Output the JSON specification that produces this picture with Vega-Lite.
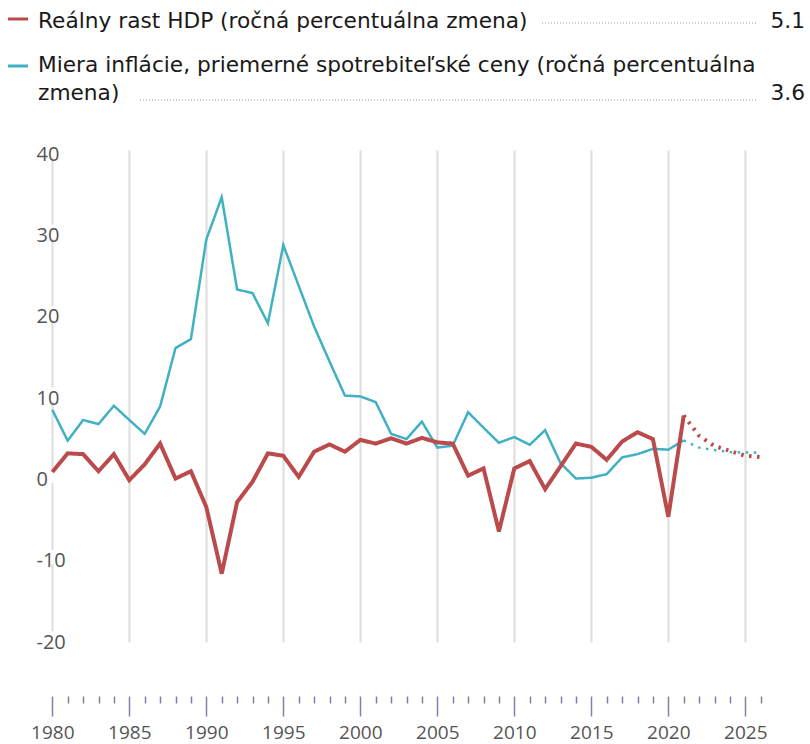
{
  "$schema": "https://vega.github.io/schema/vega-lite/v6.json",
  "padding": 0,
  "spacing": 30,
  "bounds": "flush",
  "config": {"font": "Open Sans", "view": {"stroke": null}},
  "vconcat": [
    {
      "width": 810,
      "height": 120,
      "data": {"values": [
        {"series": "gdp", "label": "Reálny rast HDP (ročná percentuálna zmena)", "latest": "5.1"},
        {"series": "inf", "label": "Miera inflácie, priemerné spotrebiteľské ceny (ročná percentuálna\nzmena)", "latest": "3.6"}
      ]},
      "resolve": {"scale": {"y": "independent", "x": "independent"}},
      "layer": [
        {
          "mark": {"type": "rule", "strokeWidth": 3},
          "encoding": {
            "x": {"value": 8},
            "x2": {"value": 28},
            "y": {"field": "series", "type": "nominal", "scale": {"type": "point", "padding": 0, "domain": ["gdp", "inf"], "range": [19, 66]}, "axis": null},
            "color": {"field": "series", "type": "nominal", "scale": {"domain": ["gdp", "inf"], "range": ["#bb4a4c", "#41b0c3"]}, "legend": null}
          }
        },
        {
          "mark": {"type": "text", "align": "left", "baseline": "alphabetic", "font": "DejaVu Sans", "fontSize": 21.7, "lineBreak": "\n", "lineHeight": 28, "color": "#1a1a1a"},
          "encoding": {
            "x": {"value": 38},
            "y": {"field": "series", "type": "nominal", "scale": {"type": "point", "padding": 0, "domain": ["gdp", "inf"], "range": [28, 72]}, "axis": null},
            "text": {"field": "label"}
          }
        },
        {
          "mark": {"type": "rule", "strokeWidth": 1, "strokeDash": [1, 2], "color": "#999999"},
          "encoding": {
            "x": {"field": "series", "type": "nominal", "scale": {"type": "point", "padding": 0, "domain": ["gdp", "inf"], "range": [542, 140]}, "axis": null},
            "x2": {"value": 757},
            "y": {"field": "series", "type": "nominal", "scale": {"type": "point", "padding": 0, "domain": ["gdp", "inf"], "range": [23, 100]}, "axis": null}
          }
        },
        {
          "mark": {"type": "text", "align": "right", "baseline": "alphabetic", "font": "DejaVu Sans", "fontSize": 21.7, "color": "#1a1a1a"},
          "encoding": {
            "x": {"value": 805},
            "y": {"field": "series", "type": "nominal", "scale": {"type": "point", "padding": 0, "domain": ["gdp", "inf"], "range": [28, 100]}, "axis": null},
            "text": {"field": "latest"}
          }
        }
      ]
    },
    {
      "width": 810,
      "height": 492,
      "data": {"values": [
        {"year": 1980, "series": "gdp", "kind": "actual", "value": 0.9},
        {"year": 1981, "series": "gdp", "kind": "actual", "value": 3.2},
        {"year": 1982, "series": "gdp", "kind": "actual", "value": 3.1},
        {"year": 1983, "series": "gdp", "kind": "actual", "value": 1.0},
        {"year": 1984, "series": "gdp", "kind": "actual", "value": 3.1},
        {"year": 1985, "series": "gdp", "kind": "actual", "value": -0.1},
        {"year": 1986, "series": "gdp", "kind": "actual", "value": 1.85},
        {"year": 1987, "series": "gdp", "kind": "actual", "value": 4.4},
        {"year": 1988, "series": "gdp", "kind": "actual", "value": 0.1},
        {"year": 1989, "series": "gdp", "kind": "actual", "value": 1.0},
        {"year": 1990, "series": "gdp", "kind": "actual", "value": -3.4},
        {"year": 1991, "series": "gdp", "kind": "actual", "value": -11.6},
        {"year": 1992, "series": "gdp", "kind": "actual", "value": -2.8},
        {"year": 1993, "series": "gdp", "kind": "actual", "value": -0.3},
        {"year": 1994, "series": "gdp", "kind": "actual", "value": 3.2},
        {"year": 1995, "series": "gdp", "kind": "actual", "value": 2.9},
        {"year": 1996, "series": "gdp", "kind": "actual", "value": 0.3},
        {"year": 1997, "series": "gdp", "kind": "actual", "value": 3.4},
        {"year": 1998, "series": "gdp", "kind": "actual", "value": 4.3},
        {"year": 1999, "series": "gdp", "kind": "actual", "value": 3.4},
        {"year": 2000, "series": "gdp", "kind": "actual", "value": 4.85},
        {"year": 2001, "series": "gdp", "kind": "actual", "value": 4.4},
        {"year": 2002, "series": "gdp", "kind": "actual", "value": 5.05},
        {"year": 2003, "series": "gdp", "kind": "actual", "value": 4.4},
        {"year": 2004, "series": "gdp", "kind": "actual", "value": 5.1},
        {"year": 2005, "series": "gdp", "kind": "actual", "value": 4.55},
        {"year": 2006, "series": "gdp", "kind": "actual", "value": 4.4},
        {"year": 2007, "series": "gdp", "kind": "actual", "value": 0.45},
        {"year": 2008, "series": "gdp", "kind": "actual", "value": 1.35},
        {"year": 2009, "series": "gdp", "kind": "actual", "value": -6.4},
        {"year": 2010, "series": "gdp", "kind": "actual", "value": 1.35},
        {"year": 2011, "series": "gdp", "kind": "actual", "value": 2.25},
        {"year": 2012, "series": "gdp", "kind": "actual", "value": -1.2},
        {"year": 2013, "series": "gdp", "kind": "actual", "value": 1.6},
        {"year": 2014, "series": "gdp", "kind": "actual", "value": 4.4},
        {"year": 2015, "series": "gdp", "kind": "actual", "value": 4.0},
        {"year": 2016, "series": "gdp", "kind": "actual", "value": 2.4},
        {"year": 2017, "series": "gdp", "kind": "actual", "value": 4.65},
        {"year": 2018, "series": "gdp", "kind": "actual", "value": 5.8},
        {"year": 2019, "series": "gdp", "kind": "actual", "value": 4.95},
        {"year": 2020, "series": "gdp", "kind": "actual", "value": -4.6},
        {"year": 2021, "series": "gdp", "kind": "actual", "value": 7.85},
        {"year": 2021, "series": "gdp", "kind": "projection", "value": 7.85},
        {"year": 2022, "series": "gdp", "kind": "projection", "value": 5.35},
        {"year": 2023, "series": "gdp", "kind": "projection", "value": 4.1},
        {"year": 2024, "series": "gdp", "kind": "projection", "value": 3.5},
        {"year": 2025, "series": "gdp", "kind": "projection", "value": 2.9},
        {"year": 2026, "series": "gdp", "kind": "projection", "value": 2.75},
        {"year": 1980, "series": "inf", "kind": "actual", "value": 8.55},
        {"year": 1981, "series": "inf", "kind": "actual", "value": 4.75},
        {"year": 1982, "series": "inf", "kind": "actual", "value": 7.3},
        {"year": 1983, "series": "inf", "kind": "actual", "value": 6.8},
        {"year": 1984, "series": "inf", "kind": "actual", "value": 9.05},
        {"year": 1985, "series": "inf", "kind": "actual", "value": 7.3},
        {"year": 1986, "series": "inf", "kind": "actual", "value": 5.6},
        {"year": 1987, "series": "inf", "kind": "actual", "value": 8.95},
        {"year": 1988, "series": "inf", "kind": "actual", "value": 16.15},
        {"year": 1989, "series": "inf", "kind": "actual", "value": 17.25},
        {"year": 1990, "series": "inf", "kind": "actual", "value": 29.5},
        {"year": 1991, "series": "inf", "kind": "actual", "value": 34.7},
        {"year": 1992, "series": "inf", "kind": "actual", "value": 23.35},
        {"year": 1993, "series": "inf", "kind": "actual", "value": 22.9},
        {"year": 1994, "series": "inf", "kind": "actual", "value": 19.2},
        {"year": 1995, "series": "inf", "kind": "actual", "value": 28.8},
        {"year": 1996, "series": "inf", "kind": "actual", "value": 23.8},
        {"year": 1997, "series": "inf", "kind": "actual", "value": 18.8},
        {"year": 1998, "series": "inf", "kind": "actual", "value": 14.5},
        {"year": 1999, "series": "inf", "kind": "actual", "value": 10.3},
        {"year": 2000, "series": "inf", "kind": "actual", "value": 10.2},
        {"year": 2001, "series": "inf", "kind": "actual", "value": 9.5},
        {"year": 2002, "series": "inf", "kind": "actual", "value": 5.6},
        {"year": 2003, "series": "inf", "kind": "actual", "value": 4.95},
        {"year": 2004, "series": "inf", "kind": "actual", "value": 7.1},
        {"year": 2005, "series": "inf", "kind": "actual", "value": 3.9},
        {"year": 2006, "series": "inf", "kind": "actual", "value": 4.15},
        {"year": 2007, "series": "inf", "kind": "actual", "value": 8.25},
        {"year": 2008, "series": "inf", "kind": "actual", "value": 6.35},
        {"year": 2009, "series": "inf", "kind": "actual", "value": 4.5},
        {"year": 2010, "series": "inf", "kind": "actual", "value": 5.2},
        {"year": 2011, "series": "inf", "kind": "actual", "value": 4.25},
        {"year": 2012, "series": "inf", "kind": "actual", "value": 6.05},
        {"year": 2013, "series": "inf", "kind": "actual", "value": 2.0},
        {"year": 2014, "series": "inf", "kind": "actual", "value": 0.1},
        {"year": 2015, "series": "inf", "kind": "actual", "value": 0.2},
        {"year": 2016, "series": "inf", "kind": "actual", "value": 0.65},
        {"year": 2017, "series": "inf", "kind": "actual", "value": 2.7},
        {"year": 2018, "series": "inf", "kind": "actual", "value": 3.1},
        {"year": 2019, "series": "inf", "kind": "actual", "value": 3.75},
        {"year": 2020, "series": "inf", "kind": "actual", "value": 3.65},
        {"year": 2021, "series": "inf", "kind": "actual", "value": 4.8},
        {"year": 2021, "series": "inf", "kind": "projection", "value": 4.8},
        {"year": 2022, "series": "inf", "kind": "projection", "value": 3.9},
        {"year": 2023, "series": "inf", "kind": "projection", "value": 3.6},
        {"year": 2024, "series": "inf", "kind": "projection", "value": 3.35},
        {"year": 2025, "series": "inf", "kind": "projection", "value": 3.3},
        {"year": 2026, "series": "inf", "kind": "projection", "value": 3.3}
      ]},
      "encoding": {
        "x": {
          "field": "year", "type": "quantitative",
          "scale": {"domain": [1976.604, 2029.2], "nice": false, "zero": false},
          "axis": {
            "title": null,
            "values": [1980,1981,1982,1983,1984,1985,1986,1987,1988,1989,1990,1991,1992,1993,1994,1995,1996,1997,1998,1999,2000,2001,2002,2003,2004,2005,2006,2007,2008,2009,2010,2011,2012,2013,2014,2015,2016,2017,2018,2019,2020,2021,2022,2023,2024,2025,2026],
            "domain": false,
            "offset": 54,
            "tickSize": {"condition": {"test": "datum.value % 5 === 0", "value": 20}, "value": 7},
            "tickColor": "#7e82a8",
            "tickWidth": 1.5,
            "grid": true,
            "gridColor": "#dddddd",
            "gridWidth": 2,
            "gridOpacity": {"condition": {"test": "datum.value % 5 === 0", "value": 1}, "value": 0},
            "gridDash": {"condition": {"test": "datum.value === 1980", "value": [0, 7, 67.3, 14, 67.3, 14, 67.3, 14, 67.3, 14, 67.3, 14, 67.3, 30]}, "value": []},
            "labelExpr": "datum.value % 5 === 0 ? '' + datum.value : ''",
            "labelFontSize": 19,
            "labelColor": "#555555",
            "labelPadding": 7,
            "labelOverlap": false,
            "labelFlush": false
          }
        },
        "y": {
          "field": "value", "type": "quantitative",
          "scale": {"domain": [-20, 40.5], "nice": false, "zero": false},
          "axis": {
            "title": null,
            "values": [-20, -10, 0, 10, 20, 30, 40],
            "labelExpr": "'' + datum.value",
            "domain": false,
            "ticks": false,
            "tickSize": 0,
            "grid": false,
            "labelAlign": "left",
            "labelBaseline": "middle",
            "labelPadding": -36,
            "labelFontSize": 20,
            "labelColor": "#555555"
          }
        },
        "strokeDash": {
          "field": "kind", "type": "nominal",
          "scale": {"domain": ["actual", "projection"], "range": [[1, 0], [2.5, 5.5]]},
          "legend": null
        }
      },
      "layer": [
        {
          "transform": [{"filter": "datum.series === 'inf'"}],
          "mark": {"type": "line", "strokeWidth": 2.5, "color": "#41b0c3"}
        },
        {
          "transform": [{"filter": "datum.series === 'gdp'"}],
          "mark": {"type": "line", "strokeWidth": 4, "color": "#bb4a4c"}
        }
      ]
    }
  ]
}
